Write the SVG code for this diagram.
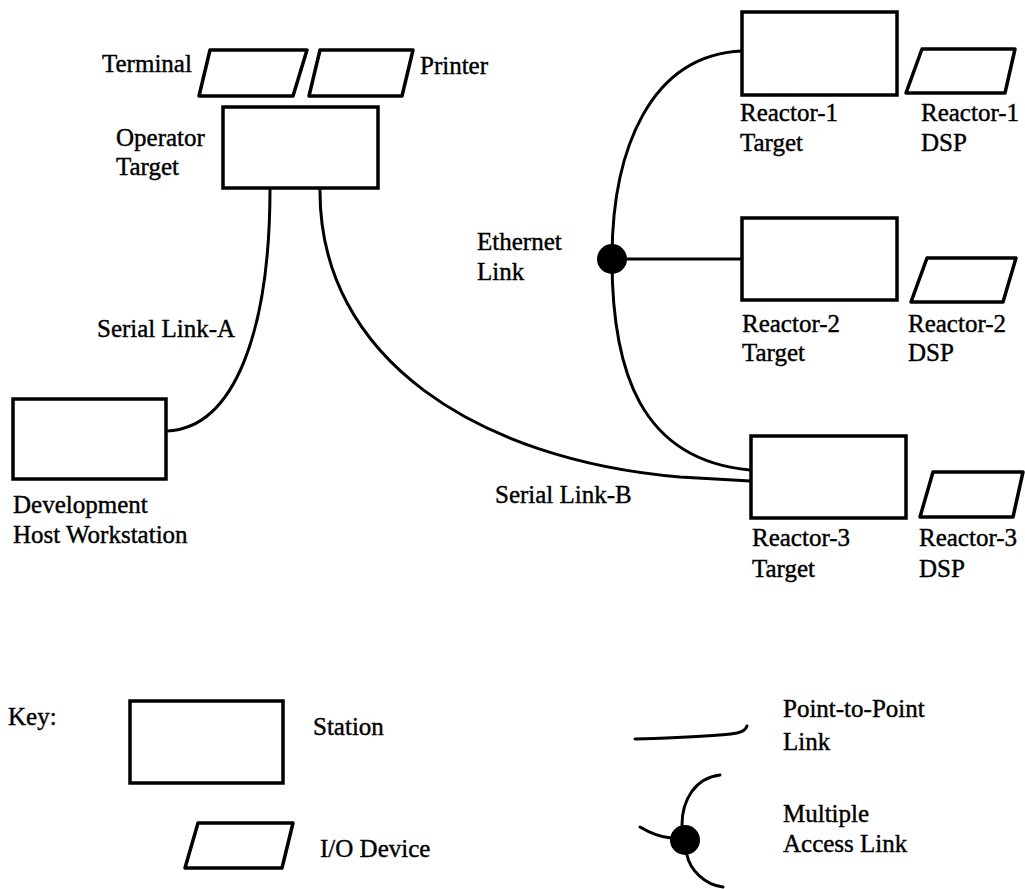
<svg xmlns="http://www.w3.org/2000/svg" width="1025" height="889" viewBox="0 0 1025 889">
<style>
.st{fill:#fff;stroke:#000;stroke-width:3.5}
.io{fill:#fff;stroke:#000;stroke-width:3.5;stroke-linejoin:round}
.ln{fill:none;stroke:#000;stroke-width:3;stroke-linecap:round}
.dot{fill:#000}
text{font-family:"Liberation Serif","Times New Roman",serif;font-size:25px;fill:#000;stroke:#000;stroke-width:0.4}
</style>
<rect width="1025" height="889" fill="#fff"/>
<g id="connectors">
<path class="ln" d="M270,188 C270,330 235,428 167,431"/>
<path class="ln" d="M320,188 C318,360 480,460 680,477 L750,481"/>
<path class="ln" d="M742,51 C650,55 612,150 612,259 C612,370 640,460 750,470"/>
<path class="ln" d="M612,259 L742,259"/>
<circle class="dot" cx="612" cy="259" r="15"/>
<text x="97" y="337">Serial Link-A</text>
<text x="495" y="503">Serial Link-B</text>
<text x="477" y="250">Ethernet</text>
<text x="477" y="280">Link</text>
</g>
<g id="terminal">
<polygon class="io" points="210,50 307,50 293,96 199,96"/>
<text x="102" y="72">Terminal</text>
</g>
<g id="printer">
<polygon class="io" points="320,50 413,50 402,96 309,96"/>
<text x="420" y="74">Printer</text>
</g>
<g id="operator-target">
<rect class="st" x="223" y="107" width="155" height="81"/>
<text x="116" y="146">Operator</text>
<text x="116" y="175">Target</text>
</g>
<g id="dev-host">
<rect class="st" x="13" y="399" width="153" height="80"/>
<text x="13" y="513">Development</text>
<text x="13" y="543">Host Workstation</text>
</g>
<g id="reactor1-target">
<rect class="st" x="742" y="12" width="155" height="83"/>
<text x="740" y="121">Reactor-1</text>
<text x="740" y="151">Target</text>
</g>
<g id="reactor1-dsp">
<polygon class="io" points="922,49 1015,49 1005,93 906,93"/>
<text x="921" y="121">Reactor-1</text>
<text x="921" y="151">DSP</text>
</g>
<g id="reactor2-target">
<rect class="st" x="742" y="218" width="155" height="82"/>
<text x="742" y="332">Reactor-2</text>
<text x="742" y="361">Target</text>
</g>
<g id="reactor2-dsp">
<polygon class="io" points="927,258 1016,258 1003,302 911,302"/>
<text x="908" y="332">Reactor-2</text>
<text x="908" y="361">DSP</text>
</g>
<g id="reactor3-target">
<rect class="st" x="751" y="436" width="155" height="82"/>
<text x="752" y="546">Reactor-3</text>
<text x="752" y="577">Target</text>
</g>
<g id="reactor3-dsp">
<polygon class="io" points="933,472 1023,472 1013,517 920,517"/>
<text x="919" y="546">Reactor-3</text>
<text x="919" y="577">DSP</text>
</g>
<g id="key">
<text x="8" y="725">Key:</text>
<rect class="st" x="130" y="701" width="153" height="82"/>
<text x="313" y="735">Station</text>
<polygon class="io" points="198,823 293,823 282,868 185,868"/>
<text x="320" y="857">I/O Device</text>
<path class="ln" d="M635,739 C670,738 720,736 737,733 C742,732 746,729 747,726"/>
<text x="783" y="717">Point-to-Point</text>
<text x="783" y="750">Link</text>
<path class="ln" d="M682,825 C682,800 695,778 720,775"/>
<path class="ln" d="M640,827 C650,833 660,837 671,838"/>
<path class="ln" d="M687,855 C690,870 705,885 723,887"/>
<circle class="dot" cx="685" cy="840" r="15"/>
<text x="783" y="822">Multiple</text>
<text x="783" y="852">Access Link</text>
</g>
</svg>
